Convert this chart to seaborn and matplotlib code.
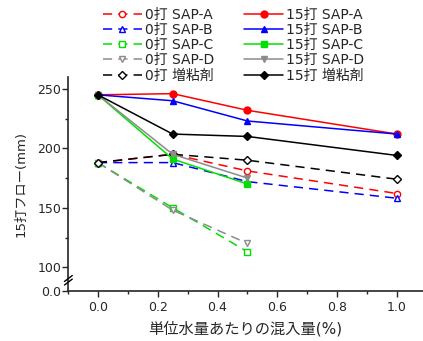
import matplotlib
matplotlib.use("Agg")
import matplotlib.pyplot as plt
import seaborn as sns
import numpy as np

sns.set_style("ticks")
plt.rcParams['font.family'] = ['DejaVu Sans', 'Noto Sans CJK JP']

# x positions (混入量 %)
x_sap = [0.0, 0.25, 0.5, 1.0]
x_cd = [0.0, 0.25, 0.5]

# 0打 series (dashed, open markers)
y0_A = [188, 195, 181, 162]
y0_B = [188, 188, 172, 158]
y0_C = [188, 150, 113]
y0_D = [188, 148, 120]
y0_T = [188, 195, 190, 174]

# 15打 series (solid, filled markers)
y15_A = [245, 246, 232, 212]
y15_B = [245, 240, 223, 212]
y15_C = [245, 191, 170]
y15_D = [245, 195, 175]
y15_T = [245, 212, 210, 194]

labels0 = ["0打 SAP-A", "0打 SAP-B", "0打 SAP-C", "0打 SAP-D", "0打 増粘剤"]
labels15 = ["15打 SAP-A", "15打 SAP-B", "15打 SAP-C", "15打 SAP-D", "15打 増粘剤"]
colors = ["#ff0000", "#0000ff", "#00e000", "#8c8c8c", "#000000"]
markers = ["o", "^", "s", "v", "D"]

yticks = [80, 100, 150, 200, 250]
ytick_labels = ["0.0", "100", "150", "200", "250"]
xticks = [0.0, 0.2, 0.4, 0.6, 0.8, 1.0]

W, H = 423, 341
fig = plt.figure(figsize=(W / 100, H / 100), dpi=100)
ax = fig.add_axes([68 / W, 1 - 291 / H, (423 - 68) / W, (291 - 77) / H])

series0 = [(x_sap, y0_A), (x_sap, y0_B), (x_cd, y0_C), (x_cd, y0_D), (x_sap, y0_T)]
series15 = [(x_sap, y15_A), (x_sap, y15_B), (x_cd, y15_C), (x_cd, y15_D), (x_sap, y15_T)]

h0, h15 = [], []
for (xs, ys), lab, c, m in zip(series0, labels0, colors, markers):
    sns.lineplot(x=xs, y=ys, ax=ax, color=c, marker=m, linestyle=(0, (6, 4)),
                 linewidth=1.1, markersize=4.5 if m != "D" else 4,
                 markerfacecolor="white", markeredgecolor=c, markeredgewidth=1.0,
                 legend=False, zorder=3)
    h0.append(ax.lines[-1])
for (xs, ys), lab, c, m in zip(series15, labels15, colors, markers):
    sns.lineplot(x=xs, y=ys, ax=ax, color=c, marker=m, linestyle="-",
                 linewidth=1.1, markersize=5 if m != "D" else 4.5,
                 markerfacecolor=c, markeredgecolor=c, markeredgewidth=1.0,
                 legend=False, zorder=4)
    h15.append(ax.lines[-1])

ax.set_xlim(-0.1, 1.087)
ax.set_ylim(80, 260)
ax.set_xticks(xticks)
ax.set_xticklabels([f"{v:.1f}" for v in xticks])
ax.set_xticks(np.arange(-0.1, 1.09, 0.1), minor=True)
ax.set_yticks(yticks)
ax.set_yticklabels(ytick_labels)
ax.set_yticks([125, 175, 225], minor=True)

for s in ["top", "right"]:
    ax.spines[s].set_visible(False)
for s in ["left", "bottom"]:
    ax.spines[s].set_linewidth(1.2)
ax.tick_params(axis="both", which="major", length=4, width=1.0, labelsize=9, pad=1, direction="out")
ax.tick_params(axis="x", which="major", pad=3)
ax.tick_params(axis="both", which="minor", length=2.5, width=1.0, direction="out")

# axis break marks
tr = ax.get_yaxis_transform()
for yc in (87.5, 90.5):
    ax.plot([-0.01, 0.012], [yc - 2.5, yc + 2.5], transform=tr, color="black",
            lw=1.0, clip_on=False, zorder=6)

ax.set_ylabel("15打フロー(mm)", fontsize=9.5, labelpad=7)
ax.set_xlabel("単位水量あたりの混入量(%)", fontsize=11, labelpad=5)

handles = h0 + h15
labels = labels0 + labels15
leg = fig.legend(handles, labels, ncol=2, loc="upper left",
                 bbox_to_anchor=(103 / W, 1 - 8 / H), frameon=False,
                 fontsize=10, handlelength=2.8, handletextpad=0.2,
                 columnspacing=2.2, labelspacing=0.08, borderaxespad=0, borderpad=0)

fig.savefig("out.png", dpi=100)
